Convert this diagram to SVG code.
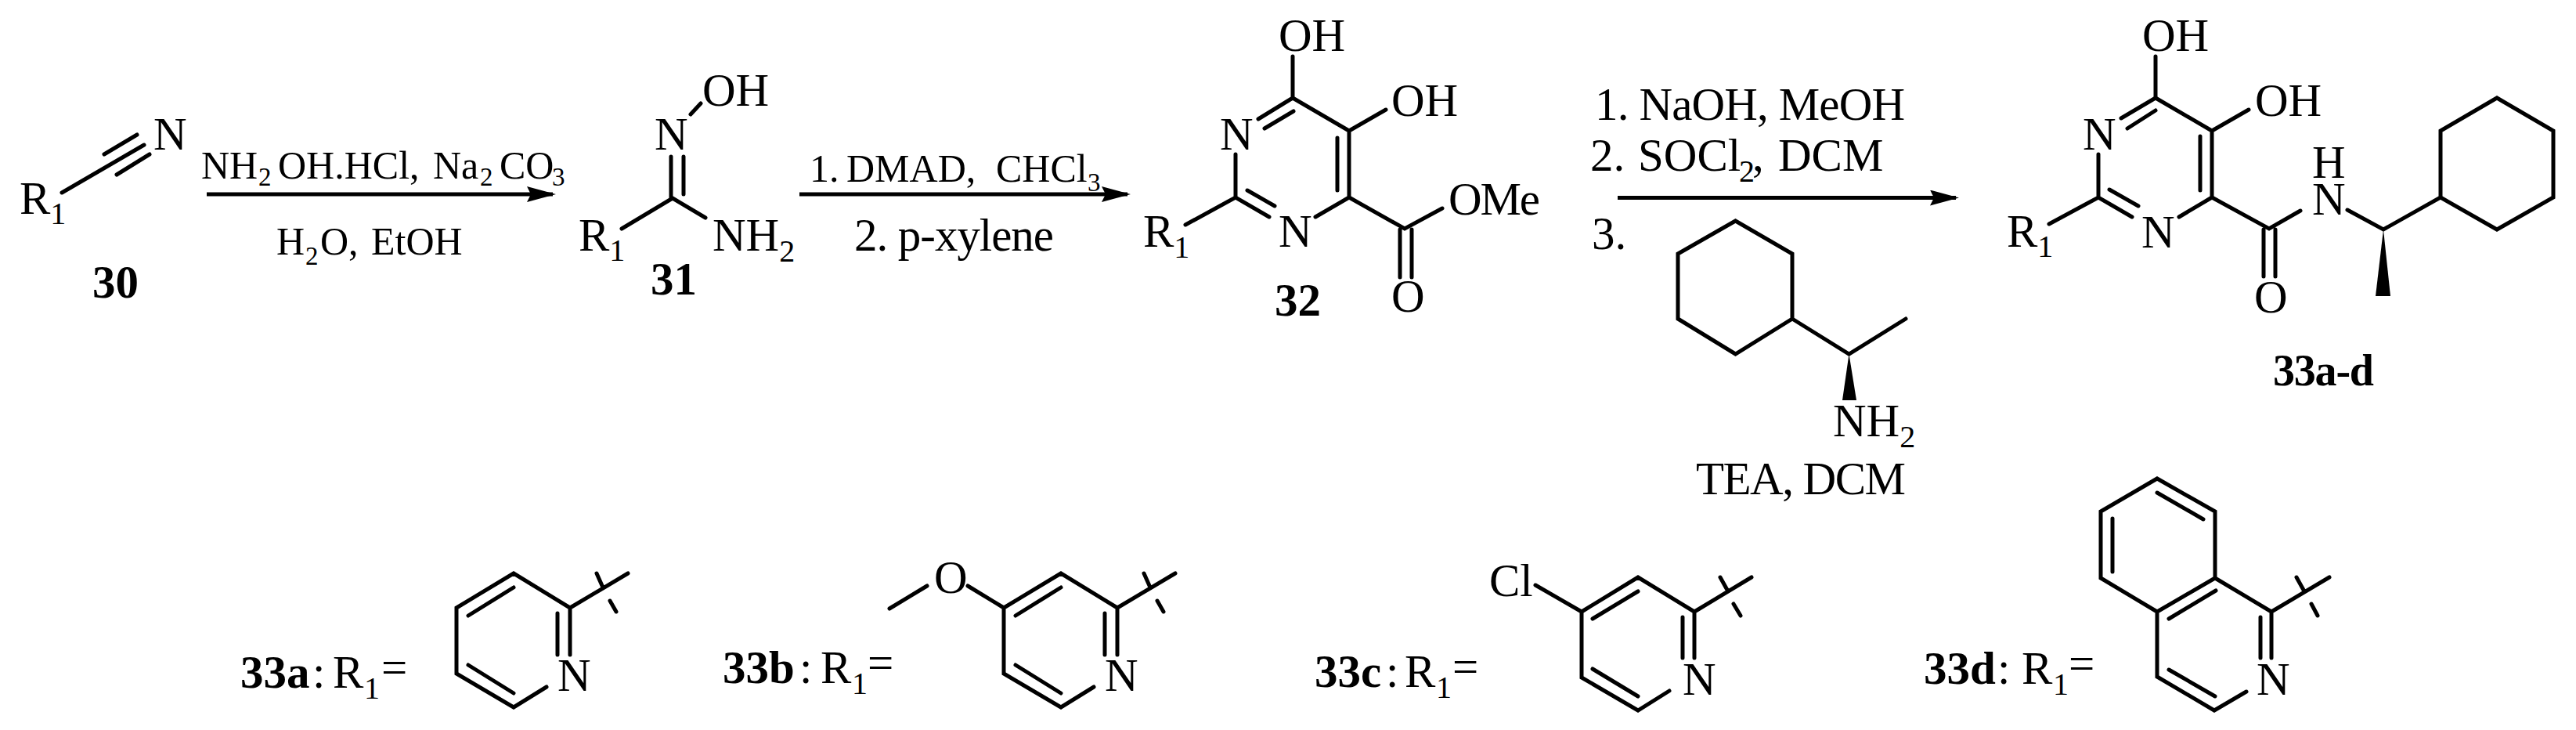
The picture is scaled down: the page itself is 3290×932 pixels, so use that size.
<svg xmlns="http://www.w3.org/2000/svg" width="3290" height="932" viewBox="0 0 3290 932">
<style>
text{font-family:"Liberation Serif","Times New Roman",serif;font-size:59px;fill:#000}
.r{font-size:50px}
.b{font-weight:bold}
.s{font-size:40px}
.rs{font-size:33px}
.bond{fill:none;stroke:#000;stroke-width:5;stroke-linecap:round;stroke-linejoin:miter}
.arrow{fill:none;stroke:#000;stroke-width:5;marker-end:url(#head)}
</style>
<defs>
<marker id="head" markerUnits="userSpaceOnUse" markerWidth="40" markerHeight="22" refX="33" refY="10" orient="auto"><path d="M0,0L37,10L0,20L5,10z" fill="#000"/></marker>
</defs>
<rect width="3290" height="932" fill="#fff"/>
<g id="connectors">
<path class="arrow" d="M264,248H706"/>
<path class="arrow" d="M1021,248H1440"/>
<path class="arrow" d="M2066,252.500H2498"/>
</g>
<g id="reagents">
<text class="r" y="228"><tspan x="257">NH</tspan><tspan class="rs" x="330" dy="9">2</tspan><tspan x="355" dy="-9">OH.HCl, </tspan><tspan x="553">Na</tspan><tspan class="rs" x="613" dy="9">2</tspan><tspan x="638" dy="-9">CO</tspan><tspan class="rs" x="705" dy="9">3</tspan></text>
<text class="r" y="325"><tspan x="353">H</tspan><tspan class="rs" x="390" dy="13">2</tspan><tspan x="409" dy="-13">O, </tspan><tspan x="474">EtOH</tspan></text>
<text class="r" y="232"><tspan x="1034">1. </tspan><tspan x="1081">DMAD, </tspan><tspan x="1272">CHCl</tspan><tspan class="rs" x="1389" dy="12">3</tspan></text>
<text x="1091" y="320" textLength="255">2. p-xylene</text>
<text x="2037" y="153" textLength="396">1. NaOH, MeOH</text>
<text y="218"><tspan x="2031">2. </tspan><tspan x="2092">SOCl</tspan><tspan class="s" x="2221" dy="14">2</tspan><tspan x="2238" dy="-14">, </tspan><tspan x="2271">DCM</tspan></text>
<text x="2033" y="318">3.</text>
<text x="2166" y="631" textLength="268">TEA, DCM</text>
</g>
<g id="cpd30">
<path class="bond" d="M79,246L184,185M133,197L175,172M149,223L191,197"/>
<text x="25" y="273">R<tspan class="s" dy="13">1</tspan></text>
<text x="196" y="191">N</text>
<text class="b" x="118" y="380">30</text>
</g>
<g id="cpd31">
<path class="bond" d="M882,146L895,132M857,200V253M873,200V248M794,292L859,253L901,278"/>
<text x="836" y="191">N</text>
<text x="897" y="135">OH</text>
<text x="739" y="320">R<tspan class="s" dy="13">1</tspan></text>
<text x="910" y="320">NH<tspan class="s" dy="14">2</tspan></text>
<text class="b" x="831" y="376">31</text>
</g>
<g id="cpd32">
<path class="bond" d="M1651,72V125M1607,152L1651,125L1723,167V252M1615,164L1652,142M1708,176V243M1723,167L1770,140M1578,197V252M1514,287L1578,252L1621,277M1593,243L1628,263M1680,277L1723,252L1794,292L1842,266M1788,293V354M1803,293V354"/>
<text x="1633" y="65">OH</text>
<text x="1777" y="148">OH</text>
<text x="1558" y="191">N</text>
<text x="1633" y="315">N</text>
<text x="1460" y="315">R<tspan class="s" dy="14">1</tspan></text>
<text x="1850" y="274" textLength="117">OMe</text>
<text x="1777" y="398">O</text>
<text class="b" x="1628" y="403">32</text>
</g>
<g id="amine">
<path class="bond" d="M2216.500,282L2289,324V407L2216.500,452L2143,407V324ZM2289,407L2361.500,452L2434,407"/>
<path d="M2361.500,452L2353,511H2371Z" fill="#000"/>
<text x="2341" y="557">NH<tspan class="s" dy="14">2</tspan></text>
</g>
<g id="cpd33">
<path class="bond" d="M2753,72V125M2709,151L2753,125L2825,167V252M2717,164L2753,141M2810,174V243M2825,167L2872,140M2680,197V252M2617,286L2680,252L2723,277M2694,242L2731,263M2783,277L2825,252L2898,292L2938,269M2891,293V353M2906,293V353M2998,268L3044,293L3117,252V167L3189,125L3261,167V252L3189,293L3117,252"/>
<path d="M3044,293L3034,378H3053Z" fill="#000"/>
<text x="2736" y="65">OH</text>
<text x="2880" y="148">OH</text>
<text x="2660" y="191">N</text>
<text x="2735" y="316">N</text>
<text x="2563" y="315">R<tspan class="s" dy="13">1</tspan></text>
<text x="2879" y="399">O</text>
<text x="2953" y="274">N</text>
<text x="2953" y="227">H</text>
<text class="b" style="font-size:56px" x="2903" y="492" textLength="129">33a-d</text>
</g>
<g id="r33a">
<text y="878"><tspan class="b" x="307">33a</tspan><tspan x="399">: </tspan><tspan x="425">R</tspan><tspan class="s" x="465" dy="14">1</tspan><tspan x="487" dy="-20">=</tspan></text>
<path class="bond" d="M698,877L656,903L583,860V776L656,732L728,776V836M712,783V836M656,750L598,786M598,849L656,885M728,776L802,732M762,732L770,750M779,767L787,781"/>
<text x="712" y="882">N</text>
</g>
<g id="r33b">
<text y="872"><tspan class="b" x="923">33b</tspan><tspan x="1021">: </tspan><tspan x="1048">R</tspan><tspan class="s" x="1088" dy="14">1</tspan><tspan x="1108" dy="-20">=</tspan></text>
<path class="bond" d="M1397,877L1355,903L1282,860V776L1355,732L1427,776V836M1411,783V836M1355,750L1297,786M1297,849L1355,885M1427,776L1501,732M1461,732L1469,750M1478,767L1486,781M1236,748L1282,776M1184,748L1136,777"/>
<text x="1193" y="757">O</text>
<text x="1411" y="882">N</text>
</g>
<g id="r33c">
<text y="877"><tspan class="b" x="1679">33c</tspan><tspan x="1770">: </tspan><tspan x="1794">R</tspan><tspan class="s" x="1834" dy="14">1</tspan><tspan x="1855" dy="-20">=</tspan></text>
<path class="bond" d="M2132,882L2092,907L2020,865V781L2092,737L2164,781V840M2149,788V840M2092,755L2034,790M2034,854L2092,889M2164,781L2237,737M2197,737L2207,755M2214,771L2223,786M1961,747L2020,781"/>
<text x="1902" y="761">Cl</text>
<text x="2149" y="887">N</text>
</g>
<g id="r33d">
<text y="873"><tspan class="b" x="2457">33d</tspan><tspan x="2551">: </tspan><tspan x="2582">R</tspan><tspan class="s" x="2622" dy="14">1</tspan><tspan x="2642" dy="-20">=</tspan></text>
<path class="bond" d="M2869,883L2828,907L2755,864V781L2829,738L2901,781V840M2887,788V840M2770,790L2830,754M2770,855L2829,889M2901,781L2975,737M2933,737L2943,755M2952,771L2960,786M2755,781L2683,738V653L2755,611L2829,653V738M2755,629L2814,663M2698,662V730"/>
<text x="2882" y="887">N</text>
</g>
</svg>
